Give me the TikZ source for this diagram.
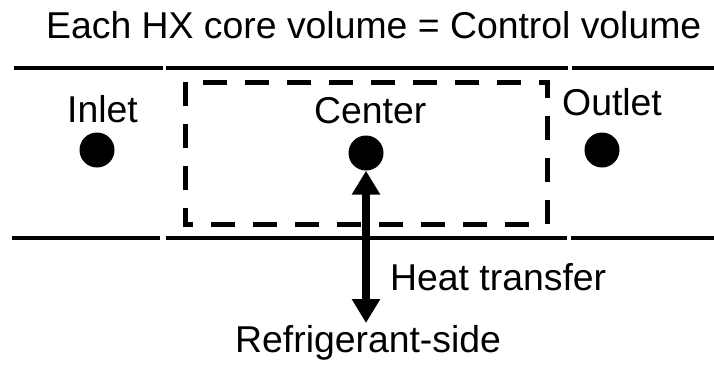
\documentclass[tikz,border=0pt]{standalone}
\usepackage{fontspec}
\setmainfont{Liberation Sans}
\usetikzlibrary{arrows.meta}
\begin{document}
\begin{tikzpicture}[x=1bp,y=-1bp,
  wall/.style={line width=4.5bp},
  cvbox/.style={line width=5bp,dash pattern=on 24bp off 18bp},
  lbl/.style={anchor=base west,inner sep=0pt,font=\fontsize{37.5}{44}\selectfont},
  pt/.style={circle,fill=black,minimum size=35bp,inner sep=0pt},
  heat/.style={line width=8bp,{Triangle[width=27bp,length=24bp]}-{Triangle[width=27bp,length=24bp]}}]
\useasboundingbox (0,0) rectangle (714,379);
% walls
\draw[wall] (14,68) -- (163,68);
\draw[wall] (166,68) -- (568,68);
\draw[wall] (572,68) -- (714,68);
\draw[wall] (12,238) -- (160,238);
\draw[wall] (166,238) -- (567,238);
\draw[wall] (571,238) -- (714,238);
% control volume
\draw[cvbox] (185,82) rectangle (547,224);
% labels
\node[lbl] (title) at (46,38) {Each HX core volume = Control volume};
\node[lbl] (inl) at (67,122) {Inlet};
\node[lbl] (cen) at (314,123) {Center};
\node[lbl] (outl) at (562,115) {Outlet};
\node[lbl] (ht) at (390,290) {Heat transfer};
\node[lbl] (rs) at (235,352) {Refrigerant-side};
% points
\node[pt] (pin) at (97,150) {};
\node[pt] (pc) at (366,153) {};
\node[pt] (pout) at (602,150) {};
\coordinate (refr) at (366,323);
\draw[heat] (pc.south) -- (refr);
\end{tikzpicture}
\end{document}
